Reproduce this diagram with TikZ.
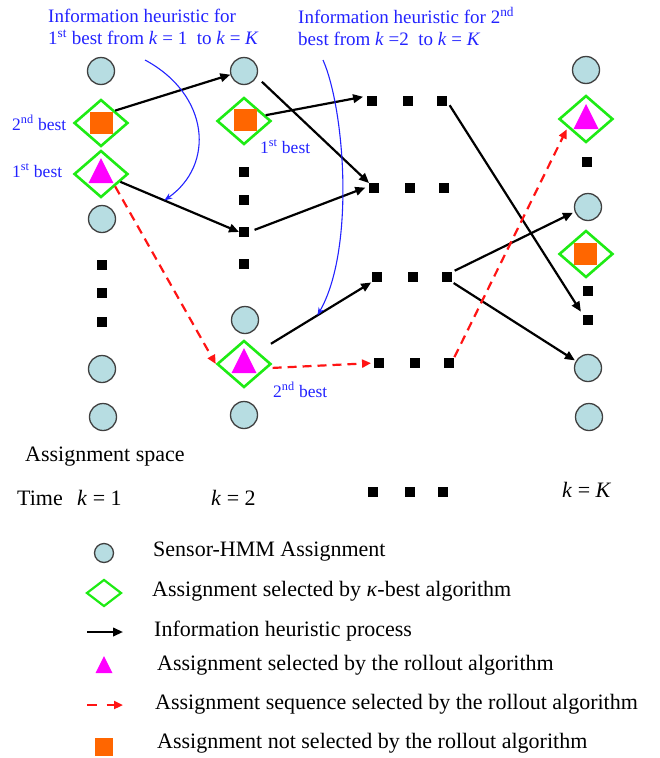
\documentclass[tikz,border=0pt]{standalone}
\usepackage{fontspec}
\setmainfont{Liberation Serif}
\usetikzlibrary{arrows.meta,shapes.geometric}

\definecolor{cellfill}{RGB}{183,221,226}
\definecolor{cellline}{RGB}{64,64,64}
\definecolor{kbestgreen}{RGB}{30,235,20}
\definecolor{rollmag}{RGB}{255,0,255}
\definecolor{notselorange}{RGB}{255,102,0}
\definecolor{noteblue}{RGB}{35,35,255}
\definecolor{seqred}{RGB}{255,20,20}

\tikzset{
  cell/.style={circle,draw=cellline,fill=cellfill,line width=1.3,minimum size=27,inner sep=0},
  kbest/.style={diamond,draw=kbestgreen,line width=2.6,minimum width=54,minimum height=47,inner sep=0},
  gapdot/.style={rectangle,fill=black,minimum size=9.5,inner sep=0},
  notsel/.style={rectangle,fill=notselorange,minimum width=23,minimum height=22,inner sep=0},
  heur/.style={draw=black,line width=2.2,-{Triangle[length=10,width=8.5]}},
  rollseq/.style={draw=seqred,line width=2.2,dash pattern=on 9 off 6,-{Triangle[length=9,width=8]}},
  infonote/.style={draw=noteblue,line width=1.1,-{Stealth[length=8,width=6]}},
  bluelabel/.style={text=noteblue,font=\fontsize{17.5}{20}\selectfont,inner sep=0,anchor=base west},
  titlelabel/.style={text=noteblue,font=\fontsize{19}{22}\selectfont,inner sep=0,anchor=base west},
  blacklabel/.style={text=black,font=\fontsize{22}{26}\selectfont,inner sep=0,anchor=base west},
  selmark/.pic={\fill[rollmag] (-12.5,9) -- (0,-16) -- (12.5,9) -- cycle;},
}

\begin{document}
\begin{tikzpicture}[x=1pt,y=-1pt]
\useasboundingbox (0,0) rectangle (660,758);

% ---- stage k = 1 ----
\node[cell]   (c11) at (101,71)  {};
\node[kbest]  (d12) at (101,123) {};
\node[notsel] (o12) at (101,123) {};
\node[kbest]  (d13) at (101,174) {};
\pic at (101,174) {selmark};
\node[cell]   (c14) at (102,219) {};
\node[gapdot] (s15) at (102,265) {};
\node[gapdot] (s16) at (102,293) {};
\node[gapdot] (s17) at (102,322) {};
\node[cell]   (c18) at (102,369) {};
\node[cell]   (c19) at (103,417) {};

% ---- stage k = 2 ----
\node[cell]   (c21) at (244,71)  {};
\node[kbest]  (d22) at (244,121) {};
\node[notsel] (o22) at (245,120) {};
\node[gapdot] (s23) at (244,172) {};
\node[gapdot] (s24) at (244,200) {};
\node[gapdot] (s25) at (244,232) {};
\node[gapdot] (s26) at (244,264) {};
\node[cell]   (c27) at (245,320) {};
\node[kbest]  (d28) at (244,364) {};
\pic at (244,364) {selmark};
\node[cell]   (c29) at (244,415) {};

% ---- intermediate stages ----
\node[gapdot] (a1) at (372,101) {};
\node[gapdot] (a2) at (408,101) {};
\node[gapdot] (a3) at (442,101) {};
\node[gapdot] (b1) at (374,188) {};
\node[gapdot] (b2) at (410,188) {};
\node[gapdot] (b3) at (444,188) {};
\node[gapdot] (r1) at (377,277) {};
\node[gapdot] (r2) at (413,277) {};
\node[gapdot] (r3) at (447,277) {};
\node[gapdot] (e1) at (379,363) {};
\node[gapdot] (e2) at (415,363) {};
\node[gapdot] (e3) at (449,363) {};
\node[gapdot] (f1) at (373,492) {};
\node[gapdot] (f2) at (410,492) {};
\node[gapdot] (f3) at (443,492) {};

% ---- stage k = K ----
\node[cell]   (cK1) at (586,70)  {};
\node[kbest]  (dK2) at (586,119) {};
\pic at (586,120) {selmark};
\node[gapdot] (sK3) at (587,162) {};
\node[cell]   (cK4) at (588,207) {};
\node[kbest]  (dK5) at (586,254) {};
\node[notsel] (oK5) at (585,254) {};
\node[gapdot] (sK6) at (588,291) {};
\node[gapdot] (sK7) at (588,320) {};
\node[cell]   (cK8) at (588,368) {};
\node[cell]   (cK9) at (589,417) {};

% ---- information heuristic steps ----
\draw[heur] (d12.north east) -- (c21.195);
\draw[heur] (d13.-22) -- coordinate[pos=0.37] (m2) (s25.west);
\draw[heur,shorten <=7] (c21.-25) -- (b1.north west);
\draw[heur,shorten >=4] (d22.15) -- (a1.north west);
\draw[heur,shorten <=6,shorten >=4] (s25.east) -- (b1.160);
\draw[heur,shorten <=15,shorten >=1] (d28.north east) -- coordinate[pos=0.52] (m6) (r1.south west);
\draw[heur,shorten <=5,shorten >=4] (a3.east) -- (sK7.north west);
\draw[heur,shorten <=3,shorten >=2] (r3.north east) -- (cK4.200);
\draw[heur,shorten <=2,shorten >=1] (r3.south east) -- (cK8.150);

% ---- rollout sequence ----
\draw[rollseq] (d13.south east) -- (d28.west);
\draw[rollseq,shorten <=5,shorten >=3] (d28.-10) -- (e1.west);
\draw[rollseq,shorten <=1,shorten >=2] (e3.north east) -- (dK2.205);

% ---- annotations ----
\node[titlelabel] (t1a) at (48,22) {Information heuristic for};
\node[titlelabel] (t1b) at (48,44) {1\textsuperscript{st} best from \textit{k} = 1 \ to \textit{k} = \textit{K}};
\node[titlelabel] (t2a) at (298,23) {Information heuristic for 2\textsuperscript{nd}};
\node[titlelabel] (t2b) at (298,45) {best from \textit{k} =2 \ to \textit{k} = \textit{K}};

\coordinate (h1) at (145,60);
\coordinate (h2) at (323,60);
\draw[infonote] (h1) .. controls (210,95) and (215,165) .. (m2);
\draw[infonote] (h2) .. controls (345,110) and (355,250) .. (m6);

\node[bluelabel] (l12) at (12,130) {2\textsuperscript{nd} best};
\node[bluelabel] (l13) at (12,177) {1\textsuperscript{st} best};
\node[bluelabel] (l22) at (260,153) {1\textsuperscript{st} best};
\node[bluelabel] (l28) at (273,397) {2\textsuperscript{nd} best};

\node[blacklabel] (space) at (25,461) {Assignment space};
\node[blacklabel] (time)  at (17,505) {Time};
\node[blacklabel] (k1)    at (77,505) {\textit{k} = 1};
\node[blacklabel] (k2)    at (211,505) {\textit{k} = 2};
\node[blacklabel] (kK)    at (562,497) {\textit{k} = \textit{K}};

% ---- legend ----
\node[cell,minimum size=19] (gc) at (104,553) {};
\node[kbest,minimum width=35,minimum height=27,line width=2.2] (gd) at (104,593) {};
\coordinate (ga1) at (87,632);
\coordinate (ga2) at (123,632);
\draw[heur] (ga1) -- (ga2);
\pic[scale=0.68] at (104,667) {selmark};
\coordinate (gr1) at (87,705);
\coordinate (gr2) at (123,705);
\draw[rollseq,dash pattern=on 10 off 9.5] (gr1) -- (gr2);
\node[notsel,minimum width=18,minimum height=18] (go) at (104,747) {};

\node[blacklabel] (g1) at (153,556) {Sensor-HMM Assignment};
\node[blacklabel] (g2) at (152,596) {Assignment selected by \textit{κ}-best algorithm};
\node[blacklabel] (g3) at (154,636) {Information heuristic process};
\node[blacklabel] (g4) at (157,670) {Assignment selected by the rollout algorithm};
\node[blacklabel] (g5) at (155,709) {Assignment sequence selected by the rollout algorithm};
\node[blacklabel] (g6) at (157,748) {Assignment not selected by the rollout algorithm};
\end{tikzpicture}
\end{document}
